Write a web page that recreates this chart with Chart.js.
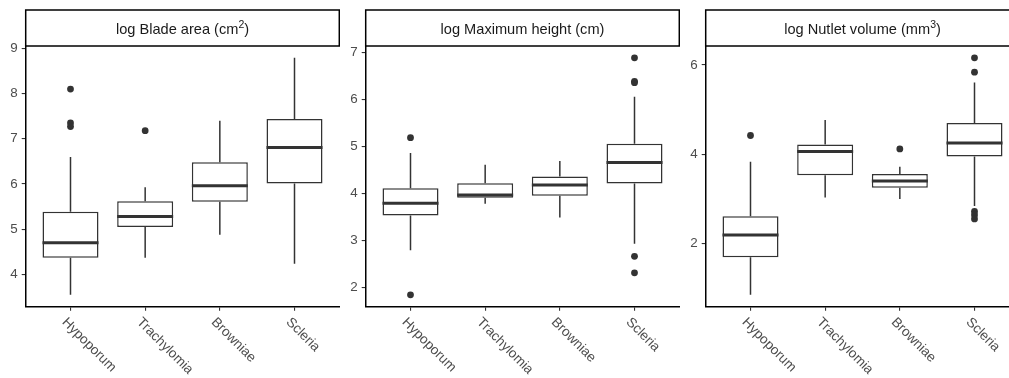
<!DOCTYPE html>
<html>
<head>
<meta charset="utf-8">
<script src="https://cdn.jsdelivr.net/npm/chart.js@4.4.1/dist/chart.umd.min.js"></script>
<style>
  html, body { margin: 0; padding: 0; background: #fff; overflow: hidden; width: 1009px; height: 378px; }
  .panel { position: absolute; top: 0; width: 340px; height: 378px; }
</style>
</head>
<body>
<div class="panel" style="left:0px"><canvas id="blade" width="340" height="378"></canvas></div>
<div class="panel" style="left:340px"><canvas id="height" width="340" height="378"></canvas></div>
<div class="panel" style="left:680px"><canvas id="nutlet" width="340" height="378"></canvas></div>
<script>
"use strict"

var groups = ['Hypoporum', 'Trachylomia', 'Browniae', 'Scleria']

// log Blade area
var bladeTitle = ['log Blade area (cm', '2', ')']
var bladeLow = [3.55, 4.37, 4.88, 4.24]
var bladeQ1 = [4.37, 5.05, 5.61, 6.01]
var bladeMed = [4.70, 5.28, 5.96, 6.81]
var bladeQ3 = [5.39, 5.62, 6.48, 7.44]
var bladeHigh = [6.60, 5.93, 7.40, 8.79]
var bladeOut = [[8.10, 7.35, 7.27], [7.18], [], []]
var bladeTicks = [4, 5, 6, 7, 8, 9]

// log Maximum height
var heightTitle = ['log Maximum height (cm)', '', '']
var heightLow = [2.79, 3.78, 3.49, 2.93]
var heightQ1 = [3.53, 3.91, 3.95, 4.21]
var heightMed = [3.79, 3.97, 4.18, 4.66]
var heightQ3 = [4.11, 4.22, 4.36, 5.06]
var heightHigh = [4.86, 4.61, 4.69, 6.06]
var heightOut = [[5.19, 1.84], [], [], [6.89, 6.39, 6.36, 2.66, 2.31]]
var heightTicks = [2, 3, 4, 5, 6, 7]

// log Nutlet volume
var nutTitle = ['log Nutlet volume (mm', '3', ')']
var nutLow = [0.85, 3.03, 3.00, 2.84]
var nutQ1 = [1.69, 3.53, 3.25, 3.95]
var nutMed = [2.19, 4.06, 3.40, 4.25]
var nutQ3 = [2.61, 4.22, 3.56, 4.70]
var nutHigh = [3.83, 4.77, 3.72, 5.61]
var nutOut = [[4.42], [], [4.12], [6.16, 5.84, 2.72, 2.64, 2.55]]
var nutTicks = [2, 4, 6]

var BOX = 0.75
var FONT = '"Liberation Sans", Arial, sans-serif'
var INK = '#333333'

function stripPlugin(parts) {
  return {
    id: 'strip',
    afterDraw: function (chart) {
      var a = chart.chartArea, c = chart.ctx
      c.save()
      c.fillStyle = '#fff'
      c.strokeStyle = '#000'
      c.lineWidth = 1.5
      c.fillRect(a.left, 10, a.right - a.left, 36)
      c.strokeRect(a.left, 10, a.right - a.left, 36)

      c.fillStyle = '#1a1a1a'
      c.textBaseline = 'alphabetic'
      c.textAlign = 'left'
      c.font = '14.6px ' + FONT
      var w0 = c.measureText(parts[0]).width
      var w2 = c.measureText(parts[2]).width
      c.font = '10.5px ' + FONT
      var w1 = c.measureText(parts[1]).width
      var x = (a.left + a.right) / 2 - (w0 + w1 + w2) / 2
      c.font = '14.6px ' + FONT
      c.fillText(parts[0], x, 34.3)
      c.font = '10.5px ' + FONT
      c.fillText(parts[1], x + w0, 27.5)
      c.font = '14.6px ' + FONT
      c.fillText(parts[2], x + w0 + w1, 34.3)

      // rotated category labels
      var xs = chart.scales.x
      c.fillStyle = '#4d4d4d'
      c.font = '13.6px ' + FONT
      groups.forEach(function (g, i) {
        var px = xs.getPixelForValue(i + 1)
        c.save()
        c.translate(px - 9, a.bottom + 16)
        c.rotate(Math.PI / 4)
        c.fillText(g, 0, 0)
        c.restore()
      })
      c.restore()
    }
  }
}

function makePanel(id, title, low, q1, med, q3, high, out, ticks) {
  var boxes = [], whiskers = [], medians = [], points = []
  var all = []
  groups.forEach(function (g, i) {
    var x = i + 1
    boxes.push({ x: x, y: [q1[i], q3[i]] })
    whiskers.push({ x: x, y: q3[i] }, { x: x, y: high[i] }, { x: x, y: null },
                  { x: x, y: q1[i] }, { x: x, y: low[i] }, { x: x, y: null })
    medians.push({ x: x - BOX / 2, y: med[i] }, { x: x + BOX / 2, y: med[i] }, { x: x, y: null })
    out[i].forEach(function (v) { points.push({ x: x, y: v }) })
    all = all.concat([low[i], high[i]], out[i])
  })
  var lo = Math.min.apply(null, all), hi = Math.max.apply(null, all)
  var pad = (hi - lo) * 0.05

  new Chart(document.getElementById(id), {
    type: 'bar',
    data: {
      datasets: [
        { type: 'line', data: whiskers, borderColor: INK, borderWidth: 1.5, pointRadius: 0, spanGaps: false, order: 4 },
        { type: 'bar', data: boxes, backgroundColor: '#fff', borderColor: INK, borderWidth: 1.5,
          borderSkipped: false, barPercentage: BOX, categoryPercentage: 1, order: 3 },
        { type: 'line', data: medians, borderColor: INK, borderWidth: 3, pointRadius: 0, spanGaps: false, order: 2 },
        { type: 'line', data: points, showLine: false, pointRadius: 3.4, pointBackgroundColor: INK,
          pointBorderWidth: 0, order: 1 }
      ]
    },
    options: {
      responsive: false,
      devicePixelRatio: 1,
      animation: false,
      events: [],
      layout: { autoPadding: false, padding: { top: 46, right: 0.7, left: 0, bottom: 0 } },
      plugins: { legend: { display: false }, tooltip: { enabled: false } },
      scales: {
        x: {
          type: 'linear', min: 0.4, max: 4.6, offset: false,
          afterBuildTicks: function (s) { s.ticks = groups.map(function (g, i) { return { value: i + 1 } }) },
          afterFit: function (s) { s.height = 71.3; s.paddingLeft = 0; s.paddingRight = 0 },
          ticks: { display: false },
          grid: { display: true, drawOnChartArea: false, drawTicks: true, tickLength: 4, color: INK, lineWidth: 1.1, offset: false },
          border: { display: true, color: '#000', width: 1.5 }
        },
        y: {
          min: lo - pad, max: hi + pad,
          afterBuildTicks: function (s) { s.ticks = ticks.map(function (v) { return { value: v } }) },
          afterFit: function (s) { s.width = 25.7 },
          ticks: { color: '#4d4d4d', font: { size: 13.4, family: FONT }, padding: 4 },
          grid: { display: true, drawOnChartArea: false, drawTicks: true, tickLength: 4, color: INK, lineWidth: 1.1 },
          border: { display: true, color: '#000', width: 1.5 }
        }
      }
    },
    plugins: [stripPlugin(title)]
  })
}

makePanel('blade', bladeTitle, bladeLow, bladeQ1, bladeMed, bladeQ3, bladeHigh, bladeOut, bladeTicks)
makePanel('height', heightTitle, heightLow, heightQ1, heightMed, heightQ3, heightHigh, heightOut, heightTicks)
makePanel('nutlet', nutTitle, nutLow, nutQ1, nutMed, nutQ3, nutHigh, nutOut, nutTicks)
</script>
</body>
</html>
